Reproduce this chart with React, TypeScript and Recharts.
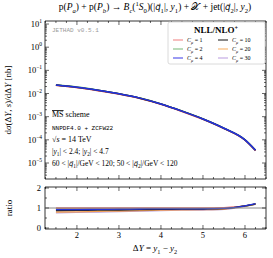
import React from 'react';
import { LineChart, Line, XAxis, YAxis, ReferenceLine, ReferenceArea } from 'recharts';

// rapidity distance ΔY
const deltaY = [1.5, 2, 2.5, 3, 3.5, 4, 4.5, 5, 5.5, 6, 6.25];

// dσ/dΔY [nb] for each scale choice C_μ
const xsecC1 = [0.0226, 0.018, 0.0133, 0.00945, 0.0061, 0.00343, 0.00168, 0.000766, 0.000304, 0.000096, 0.000034];
const xsecC2 = [0.0238, 0.0189, 0.014, 0.0099, 0.00638, 0.00358, 0.00175, 0.000798, 0.000318, 0.0001008, 0.0000358];
const xsecC4 = [0.0234, 0.0186, 0.0138, 0.00977, 0.00631, 0.00355, 0.00174, 0.000794, 0.000316, 0.0001, 0.0000355];
const xsecC10 = [0.0232, 0.0184, 0.0137, 0.0097, 0.00627, 0.00353, 0.00173, 0.00079, 0.000314, 0.0000995, 0.0000353];
const xsecC20 = [0.0229, 0.0182, 0.0135, 0.00958, 0.0062, 0.00349, 0.00171, 0.000782, 0.000311, 0.0000985, 0.000035];
const xsecC30 = [0.0228, 0.0181, 0.0134, 0.00952, 0.00616, 0.00347, 0.0017, 0.000778, 0.00031, 0.000098, 0.0000348];

// ratio panel
const ratioC1 = [1.0, 1.0, 1.0, 1.0, 1.0, 1.0, 1.0, 1.0, 1.02, 1.1, 1.19];
const ratioC2 = [0.97, 0.97, 0.97, 0.97, 0.97, 0.97, 0.97, 0.97, 0.99, 1.1, 1.2];
const ratioC4 = [0.92, 0.92, 0.93, 0.94, 0.95, 0.96, 0.96, 0.96, 0.98, 1.11, 1.22];
const ratioC10 = [0.87, 0.88, 0.89, 0.9, 0.92, 0.93, 0.94, 0.95, 0.97, 1.11, 1.21];
const ratioC20 = [0.8, 0.81, 0.83, 0.85, 0.87, 0.89, 0.91, 0.92, 0.95, 1.09, 1.2];
const ratioC30 = [0.76, 0.78, 0.8, 0.82, 0.85, 0.87, 0.89, 0.9, 0.93, 1.08, 1.18];

const scaleLabels = ['1', '2', '4', '10', '20', '30'];
const seriesKeys = ['c1', 'c2', 'c4', 'c10', 'c20', 'c30'];
const COLORS = ['#ee7070', '#55aa55', '#2233dd', '#222222', '#f5a050', '#b59ad8'];
const LEGEND_COLORS = ['#f4a3a3', '#9ccc9c', '#7070ee', '#555555', '#fbc48c', '#cdb8e8'];

const xMajor = [2, 3, 4, 5, 6];
const yMajorExp = [-5, -4, -3, -2, -1, 0, 1];
const ratioMajor = [0, 1, 2];

const X_DOMAIN = [1.24, 6.5];
const Y_DOMAIN = [2.04e-6, 13.5];
const R_DOMAIN = [-0.05, 2.05];

const W = 273;
const LEFT = 45;
const RIGHT = 7;
const PW = W - LEFT - RIGHT;
const MAIN_H = 180;
const MAIN_TOP = 21;
const MAIN_PH = MAIN_H - MAIN_TOP - 1;
const RAT_H = 78;
const RAT_TOP = 7;
const RAT_BOT = 29;
const RAT_PH = RAT_H - RAT_TOP - RAT_BOT;

const SERIF = '"Liberation Serif", "DejaVu Serif", serif';
const MONO = '"Liberation Mono", "DejaVu Sans Mono", monospace';

const mainData = deltaY.map((x, i) => ({
  x, c1: xsecC1[i], c2: xsecC2[i], c4: xsecC4[i], c10: xsecC10[i], c20: xsecC20[i], c30: xsecC30[i],
}));
const ratioData = deltaY.map((x, i) => ({
  x, c1: ratioC1[i], c2: ratioC2[i], c4: ratioC4[i], c10: ratioC10[i], c20: ratioC20[i], c30: ratioC30[i],
}));

// minor ticks
const xTicks: number[] = [];
for (let v = 1.25; v <= 6.5; v += 0.25) xTicks.push(Math.round(v * 100) / 100);
const yTicks: number[] = [];
for (let e = -6; e <= 1; e++) {
  for (let m = 1; m <= 9; m++) {
    const v = m * Math.pow(10, e);
    if (v >= Y_DOMAIN[0] && v <= Y_DOMAIN[1]) yTicks.push(v);
  }
}
const rTicks = [0, 0.5, 1, 1.5, 2];

// segments: [text, style]; style 'i' italic, 'sub', 'sup', 'isub', 'vec'
type Seg = [string, string?];
const Rich = ({ segs, size, ...rest }: any) => {
  let cur = 0;
  return (
    <text fontFamily={SERIF} fontSize={size} fill="#000" {...rest}>
      {segs.map(([t, st = '']: Seg, k: number) => {
        const off = st.includes('sub') ? size * 0.28 : st.includes('sup') ? -size * 0.4 : 0;
        const dy = off - cur;
        cur = off;
        const vec = st === 'vec';
        return (
          <tspan
            key={k}
            dy={dy}
            fontStyle={st.startsWith('i') || vec ? 'italic' : 'normal'}
            fontFamily={vec ? '"DejaVu Sans", sans-serif' : undefined}
            fontSize={off ? size * 0.7 : vec ? size * 0.9 : size}
          >
            {vec ? t + '\u20D7' : t}
          </tspan>
        );
      })}
    </text>
  );
};

const MainXTick = ({ x, y, payload }: any) => {
  const major = xMajor.includes(payload.value);
  const len = major ? 4 : 2;
  return (
    <g stroke="#000" strokeWidth={0.6}>
      <line x1={x} x2={x} y1={y} y2={y - len} />
      <line x1={x} x2={x} y1={y - MAIN_PH} y2={y - MAIN_PH + len} />
    </g>
  );
};

const MainYTick = ({ x, y, payload }: any) => {
  const lg = Math.log10(payload.value);
  const e = Math.round(lg);
  const major = Math.abs(lg - e) < 1e-6 && yMajorExp.includes(e);
  const len = major ? 4 : 2;
  return (
    <g>
      <line x1={x} x2={x + len} y1={y} y2={y} stroke="#000" strokeWidth={0.6} />
      <line x1={x + PW} x2={x + PW - len} y1={y} y2={y} stroke="#000" strokeWidth={0.6} />
      {major && (
        <text x={x - 3} y={y + 3} textAnchor="end" fontFamily={SERIF} fontSize={8.5} fill="#000">
          10
          <tspan dy={-4} fontSize={5.5}>{e < 0 ? `−${-e}` : `${e}`}</tspan>
        </text>
      )}
    </g>
  );
};

const RatioXTick = ({ x, y, payload }: any) => {
  const major = xMajor.includes(payload.value);
  const len = major ? 4 : 2;
  return (
    <g>
      <line x1={x} x2={x} y1={y} y2={y - len} stroke="#000" strokeWidth={0.6} />
      <line x1={x} x2={x} y1={y - RAT_PH} y2={y - RAT_PH + len} stroke="#000" strokeWidth={0.6} />
      {major && (
        <text x={x} y={y + 9} textAnchor="middle" fontFamily={SERIF} fontSize={8.5} fill="#000">
          {payload.value}
        </text>
      )}
    </g>
  );
};

const RatioYTick = ({ x, y, payload }: any) => {
  const major = ratioMajor.includes(payload.value);
  const len = major ? 4 : 2;
  return (
    <g>
      <line x1={x} x2={x + len} y1={y} y2={y} stroke="#000" strokeWidth={0.6} />
      <line x1={x + PW} x2={x + PW - len} y1={y} y2={y} stroke="#000" strokeWidth={0.6} />
      {major && (
        <text x={x - 4} y={y + 3} textAnchor="end" fontFamily={SERIF} fontSize={8.5} fill="#000">
          {payload.value}
        </text>
      )}
    </g>
  );
};

// blue drawn last, it sits on top in the reference
const drawOrder = [5, 4, 1, 0, 3, 2];

const Overlay = () => (
  <svg width={W} height={258} style={{ position: 'absolute', left: 0, top: 0, pointerEvents: 'none' }}>
    <Rich
      size={9.5}
      x={155}
      y={10}
      textAnchor="middle"
      segs={[
        ['p('], ['P', 'i'], ['a', 'isub'], [') + p('], ['P', 'i'], ['b', 'isub'], [') → '],
        ['B', 'i'], ['c', 'isub'], ['('], ['1', 'sup'], ['S', 'i'], ['0', 'sub'], [')(|'],
        ['q', 'vec'], ['1', 'sub'], ['|, '], ['y', 'i'], ['1', 'sub'], [') + '], ['𝒳'],
        [' + jet(|'], ['q', 'vec'], ['2', 'sub'], ['|, '], ['y', 'i'], ['2', 'sub'], [')'],
      ]}
    />
    <Rich
      size={9}
      x={0}
      y={0}
      textAnchor="middle"
      transform="translate(11,100) rotate(-90)"
      segs={[['d'], ['σ', 'i'], ['(Δ'], ['Y', 'i'], [', '], ['s', 'i'], [')/dΔ'], ['Y', 'i'], [' [nb]']]}
    />
    <text x={0} y={0} transform="translate(12,208) rotate(-90)" textAnchor="middle" fontFamily={SERIF} fontSize={9}>
      ratio
    </text>
    <Rich
      size={9}
      x={155}
      y={251}
      textAnchor="middle"
      segs={[['Δ'], ['Y', 'i'], [' = '], ['y', 'i'], ['1', 'sub'], [' − '], ['y', 'i'], ['2', 'sub']]}
    />

    <text x={52} y={32} fontFamily={MONO} fontSize={6} fill="#999">JETHAD v0.5.1</text>
    <text x={52} y={117} fontFamily={SERIF} fontSize={8}>
      <tspan textDecoration="overline" style={{ textDecoration: 'overline' }}>MS</tspan> scheme
    </text>
    <text x={52} y={130} fontFamily={MONO} fontSize={6}>NNPDF4.0 + ZCFW22</text>
    <Rich size={8} x={52} y={142} segs={[['√'], ['s', 'i'], [' = 14 TeV']]} />
    <Rich
      size={7.5}
      x={52}
      y={154}
      segs={[['|'], ['y', 'i'], ['1', 'sub'], ['| < 2.4;  |'], ['y', 'i'], ['2', 'sub'], ['| < 4.7']]}
    />
    <Rich
      size={7.5}
      x={52}
      y={166}
      segs={[
        ['60 < |'], ['q', 'vec'], ['1', 'sub'], ['|/GeV < 120;  50 < |'], ['q', 'vec'], ['2', 'sub'], ['|/GeV < 120'],
      ]}
    />

    <rect x={168} y={22} width={97} height={42} rx={2} fill="#fff" stroke="#d0d0d0" strokeWidth={0.8} />
    <text x={216} y={33} textAnchor="middle" fontFamily={SERIF} fontSize={9} fontWeight="bold">
      NLL/NLO
      <tspan dy={-3.5} fontSize={6}>+</tspan>
    </text>
    {scaleLabels.map((lab, i) => {
      const col = i < 3 ? 0 : 1;
      const row = i % 3;
      const lx = col ? 218 : 173;
      const ly = 40 + row * 9;
      return (
        <g key={lab}>
          <line x1={lx} x2={lx + 10} y1={ly} y2={ly} stroke={LEGEND_COLORS[i]} strokeWidth={1.4} />
          <Rich size={6} x={lx + 14} y={ly + 2} segs={[['C', 'i'], ['μ', 'isub'], [` = ${lab}`]]} />
        </g>
      );
    })}
  </svg>
);

export default function App() {
  return (
    <div style={{ position: 'absolute', left: 0, top: 0, width: W, height: 258, background: '#fff' }}>
      <div style={{ position: 'absolute', left: 0, top: 0 }}>
        <LineChart width={W} height={MAIN_H} data={mainData} margin={{ top: MAIN_TOP, right: RIGHT, bottom: 0, left: 0 }}>
          <XAxis
            dataKey="x"
            type="number"
            domain={X_DOMAIN}
            allowDataOverflow
            ticks={xTicks}
            interval={0}
            height={1}
            tickSize={0}
            tickMargin={0}
            axisLine={false}
            tickLine={false}
            tick={(p: any) => <MainXTick {...p} />}
          />
          <YAxis
            scale="log"
            domain={Y_DOMAIN}
            allowDataOverflow
            ticks={yTicks}
            interval={0}
            width={LEFT}
            tickSize={0}
            tickMargin={0}
            axisLine={false}
            tickLine={false}
            tick={(p: any) => <MainYTick {...p} />}
          />
          {drawOrder.map((i) => (
            <Line
              key={seriesKeys[i]}
              type="monotone"
              dataKey={seriesKeys[i]}
              stroke={COLORS[i]}
              strokeWidth={1.5}
              dot={false}
              isAnimationActive={false}
            />
          ))}
          <ReferenceArea
            x1={X_DOMAIN[0]}
            x2={X_DOMAIN[1]}
            y1={Y_DOMAIN[0]}
            y2={Y_DOMAIN[1]}
            ifOverflow="visible"
            fill="none"
            fillOpacity={0}
            stroke="#000"
            strokeWidth={0.8}
          />
        </LineChart>
      </div>
      <div style={{ position: 'absolute', left: 0, top: MAIN_H }}>
        <LineChart width={W} height={RAT_H} data={ratioData} margin={{ top: RAT_TOP, right: RIGHT, bottom: RAT_BOT - 1, left: 0 }}>
          <XAxis
            dataKey="x"
            type="number"
            domain={X_DOMAIN}
            allowDataOverflow
            ticks={xTicks}
            interval={0}
            height={1}
            tickSize={0}
            tickMargin={0}
            axisLine={false}
            tickLine={false}
            tick={(p: any) => <RatioXTick {...p} />}
          />
          <YAxis
            domain={R_DOMAIN}
            allowDataOverflow
            ticks={rTicks}
            interval={0}
            width={LEFT}
            tickSize={0}
            tickMargin={0}
            axisLine={false}
            tickLine={false}
            tick={(p: any) => <RatioYTick {...p} />}
          />
          {drawOrder.map((i) => (
            <Line
              key={seriesKeys[i]}
              type="monotone"
              dataKey={seriesKeys[i]}
              stroke={COLORS[i]}
              strokeWidth={1.3}
              dot={false}
              isAnimationActive={false}
            />
          ))}
          <ReferenceLine y={1} stroke="#888" strokeWidth={1} ifOverflow="visible" />
          <ReferenceArea
            x1={X_DOMAIN[0]}
            x2={X_DOMAIN[1]}
            y1={R_DOMAIN[0]}
            y2={R_DOMAIN[1]}
            ifOverflow="visible"
            fill="none"
            fillOpacity={0}
            stroke="#000"
            strokeWidth={0.8}
          />
        </LineChart>
      </div>
      <Overlay />
    </div>
  );
}
